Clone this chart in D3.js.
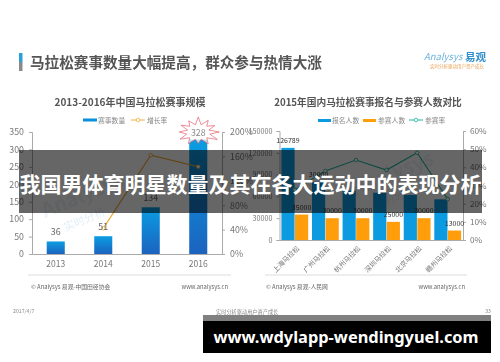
<!DOCTYPE html>
<html>
<head>
<meta charset="utf-8">
<script src="https://cdn.jsdelivr.net/npm/d3@7"></script>
<style>
html, body { margin: 0; padding: 0; background: #fff; }
#page { position: relative; width: 500px; height: 362px; overflow: hidden; }
svg { position: absolute; left: 0; top: 0; }
#slide { filter: blur(0.55px); }
text { font-family: "Noto Sans CJK SC", "Liberation Sans", sans-serif; }
</style>
</head>
<body>
<div id="page">
<svg id="slide" width="500" height="362"></svg>
<svg id="overlay" width="500" height="362"></svg>
</div>
<script>
const years = ["2013", "2014", "2015", "2016"];
const race_counts = [36, 51, 134, 328];
const growth_rates = [null, 42, 162, 143];
const left_ticks = [0, 50, 100, 150, 200, 250, 300, 350];
const left_rate_ticks = [0, 40, 80, 120, 160, 200];

const cities = ["上海马拉松", "广州马拉松", "杭州马拉松", "深圳马拉松", "北京马拉松", "赣州马拉松"];
const signups = [126789, 80000, 68000, 65000, 62000, 56000];
const signup_labels = ["126789", "30000"];
const runners = [35000, 30000, 30000, 25000, 30000, 13000];
const run_rates = [27.6, 38, 44, 38.5, 48, 22.5];
const right_ticks = [0, 30000, 60000, 90000, 120000, 150000];
const right_rate_ticks = [0, 10, 20, 30, 40, 50, 60];

// outline of the red burst around the 328 label
const burst_radii = [22, 11, 20, 12, 19, 11, 21, 12, 22, 12, 20, 11, 17, 11, 20, 12, 21, 12, 19, 11, 20, 12, 19, 11];

const slide = d3.select("#slide");
const overlay = d3.select("#overlay");

const gray_text = "#777";

const defs = slide.append("defs");
const bar_grad = defs.append("linearGradient").attr("id", "bar_grad")
    .attr("x1", 0).attr("y1", 0).attr("x2", 0).attr("y2", 1);
bar_grad.append("stop").attr("offset", "0%").attr("stop-color", "#0a9de2");
bar_grad.append("stop").attr("offset", "100%").attr("stop-color", "#1b63bf");
const accent_grad = defs.append("linearGradient").attr("id", "accent_grad")
    .attr("x1", 0).attr("y1", 0).attr("x2", 0).attr("y2", 1);
accent_grad.append("stop").attr("offset", "45%").attr("stop-color", "#2a9fd8");
accent_grad.append("stop").attr("offset", "55%").attr("stop-color", "#8a8a8a");

const add_text = function (parent, x, y, value, size, color, anchor = "middle", weight = "normal") {
    return parent.append("text")
        .attr("x", x)
        .attr("y", y)
        .attr("font-size", size)
        .attr("fill", color)
        .attr("text-anchor", anchor)
        .attr("font-weight", weight)
        .text(value);
};

const style_axis = function (g, font_size = 8.5) {
    g.selectAll("path").attr("stroke", "#aaa");
    g.selectAll("line").attr("stroke", "#aaa");
    g.selectAll("text").attr("fill", gray_text).attr("font-size", font_size);
};

// page header
slide.append("rect").attr("x", 19).attr("y", 53).attr("width", 3.5).attr("height", 18)
    .attr("fill", "url(#accent_grad)");
add_text(slide, 30, 68, "马拉松赛事数量大幅提高，群众参与热情大涨", 14.6, "#555", "start", "bold");

// logo
add_text(slide, 424, 60, "Analysys", 9.5, "#6db4df", "start").attr("font-style", "italic");
add_text(slide, 465, 61, "易观", 10.5, "#2f8fce", "start", "bold");
add_text(slide, 430, 68, "实时分析驱动用户资产成长", 4.5, "#e8a45a", "start");

// watermarks
const draw_watermark = function (x, y) {
    const g = slide.append("g").attr("transform", `translate(${x},${y}) rotate(-22)`);
    add_text(g, 0, 0, "Analysys", 20, "#edf3f8", "start", "bold");
    add_text(g, 14, 20, "实时分析", 11, "#e3eff8", "start");
};
draw_watermark(45, 218);
draw_watermark(355, 196);

// left chart
add_text(slide, 130, 106, "2013-2016年中国马拉松赛事规模", 10, "#555", "middle", "bold");

slide.append("rect").attr("x", 83).attr("y", 118.5).attr("width", 14).attr("height", 3).attr("fill", "#0a8fdc");
add_text(slide, 98, 123, "赛事数量", 6.8, "#888", "start");
slide.append("line").attr("x1", 131).attr("x2", 145).attr("y1", 120).attr("y2", 120)
    .attr("stroke", "#f0b040").attr("stroke-width", 1);
slide.append("circle").attr("cx", 138).attr("cy", 120).attr("r", 1.8).attr("fill", "#fff")
    .attr("stroke", "#f0b040").attr("stroke-width", 0.8);
add_text(slide, 147, 123, "增长率", 6.8, "#888", "start");

const x_left = d3.scaleBand().domain(years).range([32, 222]).paddingInner(0.62).paddingOuter(0.31);
const y_left = d3.scaleLinear().domain([0, 350]).range([254, 132]);
const y_left_rate = d3.scaleLinear().domain([0, 200]).range([254, 132]);

slide.append("g").attr("transform", "translate(0,254)")
    .call(d3.axisBottom(x_left).tickSize(0).tickPadding(7))
    .call(style_axis);
slide.append("g").attr("transform", "translate(32,0)")
    .call(d3.axisLeft(y_left).tickValues(left_ticks).tickSize(3).tickPadding(5))
    .call(style_axis, 8.8);
slide.append("g").attr("transform", "translate(222,0)")
    .call(d3.axisRight(y_left_rate).tickValues(left_rate_ticks).tickSize(3).tickPadding(5)
        .tickFormat(d => d + "%"))
    .call(style_axis, 8.8);

slide.append("g").selectAll("rect")
    .data(race_counts)
    .join("rect")
    .attr("x", (d, i) => x_left(years[i]))
    .attr("y", d => y_left(d))
    .attr("width", x_left.bandwidth())
    .attr("height", d => y_left(0) - y_left(d))
    .attr("fill", "url(#bar_grad)");

const band_center = (scale, key) => scale(key) + scale.bandwidth() / 2;

const left_line = d3.line()
    .defined(d => d !== null)
    .x((d, i) => band_center(x_left, years[i]))
    .y(d => y_left_rate(d));
slide.append("path").datum(growth_rates)
    .attr("d", left_line)
    .attr("fill", "none")
    .attr("stroke", "#f0a830")
    .attr("stroke-width", 1.1);
slide.append("g").selectAll("circle")
    .data(growth_rates.map((d, i) => ({value: d, year: years[i]})).filter(d => d.value !== null))
    .join("circle")
    .attr("cx", d => band_center(x_left, d.year))
    .attr("cy", d => y_left_rate(d.value))
    .attr("r", 1.8)
    .attr("fill", "#fff")
    .attr("stroke", "#f0a830")
    .attr("stroke-width", 0.8);

// starburst behind the 328 label
const burst = d3.lineRadial().curve(d3.curveLinearClosed)
    .angle((d, i) => i / burst_radii.length * 2 * Math.PI)
    .radius(d => d);
slide.append("path")
    .attr("transform", `translate(${band_center(x_left, "2016")},132) scale(1,0.68)`)
    .attr("d", burst(burst_radii))
    .attr("fill", "#fff")
    .attr("fill-opacity", 0.7)
    .attr("stroke", "#e35a68")
    .attr("stroke-width", 0.8);

slide.append("g").selectAll("text")
    .data(race_counts)
    .join("text")
    .attr("x", (d, i) => band_center(x_left, years[i]))
    .attr("y", d => d === 328 ? 135.5 : y_left(d) - 6)
    .attr("text-anchor", "middle")
    .attr("font-size", 8.8)
    .attr("fill", d => d === 328 ? "#888" : "#666")
    .text(d => d);

// right chart
add_text(slide, 368, 106, "2015年国内马拉松赛事报名与参赛人数对比", 9.7, "#555", "middle", "bold");

slide.append("rect").attr("x", 318).attr("y", 119).attr("width", 13).attr("height", 3).attr("fill", "#0a9be0");
add_text(slide, 332, 123, "报名人数", 6.8, "#888", "start");
slide.append("rect").attr("x", 363).attr("y", 119).attr("width", 13).attr("height", 3).attr("fill", "#ff9d0a");
add_text(slide, 378, 123, "参赛人数", 6.8, "#888", "start");
slide.append("line").attr("x1", 409).attr("x2", 423).attr("y1", 120).attr("y2", 120)
    .attr("stroke", "#22b8a0").attr("stroke-width", 1);
slide.append("circle").attr("cx", 416).attr("cy", 120).attr("r", 1.8).attr("fill", "#fff")
    .attr("stroke", "#22b8a0").attr("stroke-width", 0.8);
add_text(slide, 425, 123, "参赛率", 6.8, "#888", "start");

const x_right = d3.scaleBand().domain(cities).range([279.5, 463]);
const x_right_inner = d3.scaleBand().domain(["signup", "run"]).range([0, x_right.bandwidth()])
    .paddingInner(0.03).paddingOuter(0.14);
const y_right = d3.scaleLinear().domain([0, 150000]).range([240, 131]);
const y_right_rate = d3.scaleLinear().domain([0, 60]).range([240, 131]);

const x_right_axis = slide.append("g").attr("transform", "translate(0,240)")
    .call(d3.axisBottom(x_right).tickSize(0).tickFormat(""))
    .call(style_axis);
x_right_axis.selectAll(".tick").append("text")
    .attr("transform", "translate(2,6) rotate(-45)")
    .attr("text-anchor", "end")
    .attr("dy", "0.6em")
    .attr("font-size", 6.8)
    .attr("fill", gray_text)
    .text(d => d);
slide.append("g").attr("transform", "translate(279.5,0)")
    .call(d3.axisLeft(y_right).tickValues(right_ticks).tickSize(3).tickPadding(4)
        .tickFormat(d3.format("d")))
    .call(style_axis, 7.2);
slide.append("g").attr("transform", "translate(463,0)")
    .call(d3.axisRight(y_right_rate).tickValues(right_rate_ticks).tickSize(3).tickPadding(4)
        .tickFormat(d => d + "%"))
    .call(style_axis, 8.2);

slide.append("g").selectAll("rect")
    .data(signups)
    .join("rect")
    .attr("x", (d, i) => x_right(cities[i]) + x_right_inner("signup"))
    .attr("y", d => y_right(d))
    .attr("width", x_right_inner.bandwidth())
    .attr("height", d => y_right(0) - y_right(d))
    .attr("fill", "#0c9be0");
slide.append("g").selectAll("rect")
    .data(runners)
    .join("rect")
    .attr("x", (d, i) => x_right(cities[i]) + x_right_inner("run"))
    .attr("y", d => y_right(d))
    .attr("width", x_right_inner.bandwidth())
    .attr("height", d => y_right(0) - y_right(d))
    .attr("fill", "#ff9d0a");

const right_line = d3.line()
    .x((d, i) => band_center(x_right, cities[i]))
    .y(d => y_right_rate(d));
slide.append("path").datum(run_rates)
    .attr("d", right_line)
    .attr("fill", "none")
    .attr("stroke", "#22b8a0")
    .attr("stroke-width", 1.1);
slide.append("g").selectAll("circle")
    .data(run_rates)
    .join("circle")
    .attr("cx", (d, i) => band_center(x_right, cities[i]))
    .attr("cy", d => y_right_rate(d))
    .attr("r", 1.8)
    .attr("fill", "#fff")
    .attr("stroke", "#22b8a0")
    .attr("stroke-width", 0.8);

slide.append("g").selectAll("text")
    .data(signup_labels)
    .join("text")
    .attr("x", (d, i) => x_right(cities[i]) + x_right_inner("signup") + x_right_inner.bandwidth() / 2)
    .attr("y", (d, i) => y_right(signups[i]) - 5)
    .attr("text-anchor", "middle")
    .attr("font-size", 7)
    .attr("fill", "#333")
    .text(d => d);
slide.append("g").selectAll("text")
    .data(runners)
    .join("text")
    .attr("x", (d, i) => x_right(cities[i]) + x_right_inner("run") + x_right_inner.bandwidth() / 2)
    .attr("y", d => y_right(d) - 5)
    .attr("text-anchor", "middle")
    .attr("font-size", 7)
    .attr("fill", "#333")
    .text(d => d);

// footer
slide.append("line").attr("x1", 28).attr("x2", 231).attr("y1", 275).attr("y2", 275)
    .attr("stroke", "#ddd");
slide.append("line").attr("x1", 265).attr("x2", 467).attr("y1", 275).attr("y2", 275)
    .attr("stroke", "#ddd");
add_text(slide, 31, 289, "© Analysys 易观-中国田径协会", 5.8, "#666", "start");
add_text(slide, 228, 289, "www.analysys.cn", 5.8, "#666", "end");
add_text(slide, 266, 289, "© Analysys 易观-人民网", 5.8, "#666", "start");
add_text(slide, 465, 289, "www.analysys.cn", 5.8, "#666", "end");
add_text(slide, 13, 313, "2017/4/7", 5.2, "#888", "start");
add_text(slide, 216, 314, "实时分析驱动用户资产成长", 5.2, "#888", "start");
add_text(slide, 491, 313, "33", 5.2, "#888", "end");

// banners on top of the slide
overlay.append("rect").attr("x", 19).attr("y", 150).attr("width", 463).attr("height", 63)
    .attr("fill", "#000").attr("fill-opacity", 0.6);
add_text(overlay, 250.5, 192, "我国男体育明星数量及其在各大运动中的表现分析", 21, "#fff", "middle", "bold");

overlay.append("rect").attr("x", 203).attr("y", 315).attr("width", 288).attr("height", 6)
    .attr("fill", "#808080");
overlay.append("rect").attr("x", 203).attr("y", 321).attr("width", 288).attr("height", 32)
    .attr("fill", "#000");
add_text(overlay, 346, 343, "www.wdylapp-wendingyuel.com", 16.4, "#fff", "middle", "bold")
    .style("font-family", '"Noto Sans", sans-serif');
</script>
</body>
</html>
